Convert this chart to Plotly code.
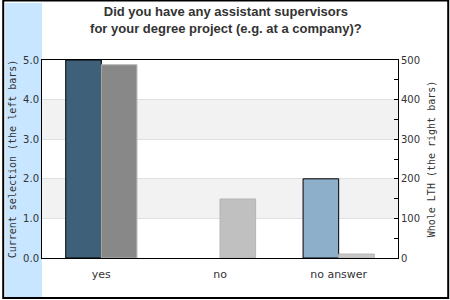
import plotly.graph_objects as go

categories = ["yes", "no", "no answer"]
current_selection = [5.0, 0.0, 2.0]
whole_lth = [488, 149, 10]
left_colors = ["#3f6079", "#3f6079", "#8eafca"]
right_colors = ["#888888", "#c0c0c0", "#c8c8c8"]
left_ticks = [0, 1, 2, 3, 4, 5]
left_ticklabels = ["0.0", "1.0", "2.0", "3.0", "4.0", "5.0"]
title_text = "Did you have any assistant supervisors<br>for your degree project (e.g. at a company)?"

fig = go.Figure()
fig.add_trace(go.Bar(
    x=categories, y=current_selection, yaxis="y",
    width=0.3, offset=-0.3,
    marker=dict(color=left_colors,
                line=dict(color="black", width=[1 if v > 0 else 0 for v in current_selection])),
    showlegend=False, hoverinfo="skip",
))
fig.add_trace(go.Bar(
    x=categories, y=whole_lth, yaxis="y2",
    width=0.3, offset=0.0,
    marker=dict(color=right_colors, line=dict(color="#b4b4b4", width=1)),
    showlegend=False, hoverinfo="skip",
))

L, R, T, B = 40, 52, 60, 42
W, H = 450, 300
pw, ph = W - L - R, H - T - B

def px(x):
    return (x - L) / pw

def py(y):
    return (H - B - y) / ph

shapes = []
shapes.append(dict(type="rect", xref="paper", yref="paper",
                   x0=px(3), x1=px(40), y0=py(297), y1=py(3),
                   fillcolor="#c8e6ff", line=dict(width=0), layer="below"))
for lo, hi in [(1, 2), (3, 4)]:
    shapes.append(dict(type="rect", xref="paper", yref="y",
                       x0=0, x1=1, y0=lo, y1=hi,
                       fillcolor="#f2f2f2", line=dict(width=0), layer="below"))
shapes.append(dict(type="rect", xref="paper", yref="paper",
                   x0=px(1), x1=px(448.5), y0=py(298), y1=py(0.5),
                   fillcolor="rgba(0,0,0,0)", line=dict(color="black", width=2)))

fig.update_layout(
    width=W, height=H,
    margin=dict(l=L, r=R, t=T, b=B),
    paper_bgcolor="white", plot_bgcolor="white",
    barmode="overlay",
    title=dict(text=title_text, x=0.502, xanchor="center", y=1 - 16 / H, yanchor="middle",
               font=dict(family="Liberation Sans, Arial", size=13, color="#333333", weight="bold")),
    xaxis=dict(showline=True, linecolor="black", linewidth=1, mirror=True,
               ticks="", ticklabelstandoff=6,
               tickfont=dict(family="DejaVu Sans", size=11, color="#333333"),
               range=[-0.5, 2.5], fixedrange=True),
    yaxis=dict(range=[0, 5], tickvals=left_ticks, ticktext=left_ticklabels,
               showline=True, linecolor="black", linewidth=1,
               showgrid=True, gridcolor="#e0e0e0", gridwidth=1, zeroline=False,
               ticks="", tickfont=dict(family="DejaVu Sans", size=10, color="#333333"),
               title=dict(text="Current selection (the left bars)", standoff=4,
                          font=dict(family="DejaVu Sans Mono", size=10, color="#333333"))),
    yaxis2=dict(range=[0, 500], dtick=100, overlaying="y", side="right",
                showline=True, linecolor="black", linewidth=1, showgrid=False, zeroline=False,
                ticks="inside", ticklen=4, tickcolor="black",
                minor=dict(dtick=50, ticks="inside", ticklen=4, tickcolor="black"),
                tickfont=dict(family="DejaVu Sans", size=10, color="#333333"),
                title=dict(text="Whole LTH (the right bars)", standoff=8,
                           font=dict(family="DejaVu Sans Mono", size=10, color="#333333"))),
    shapes=shapes,
)

fig.write_html("out.html")
